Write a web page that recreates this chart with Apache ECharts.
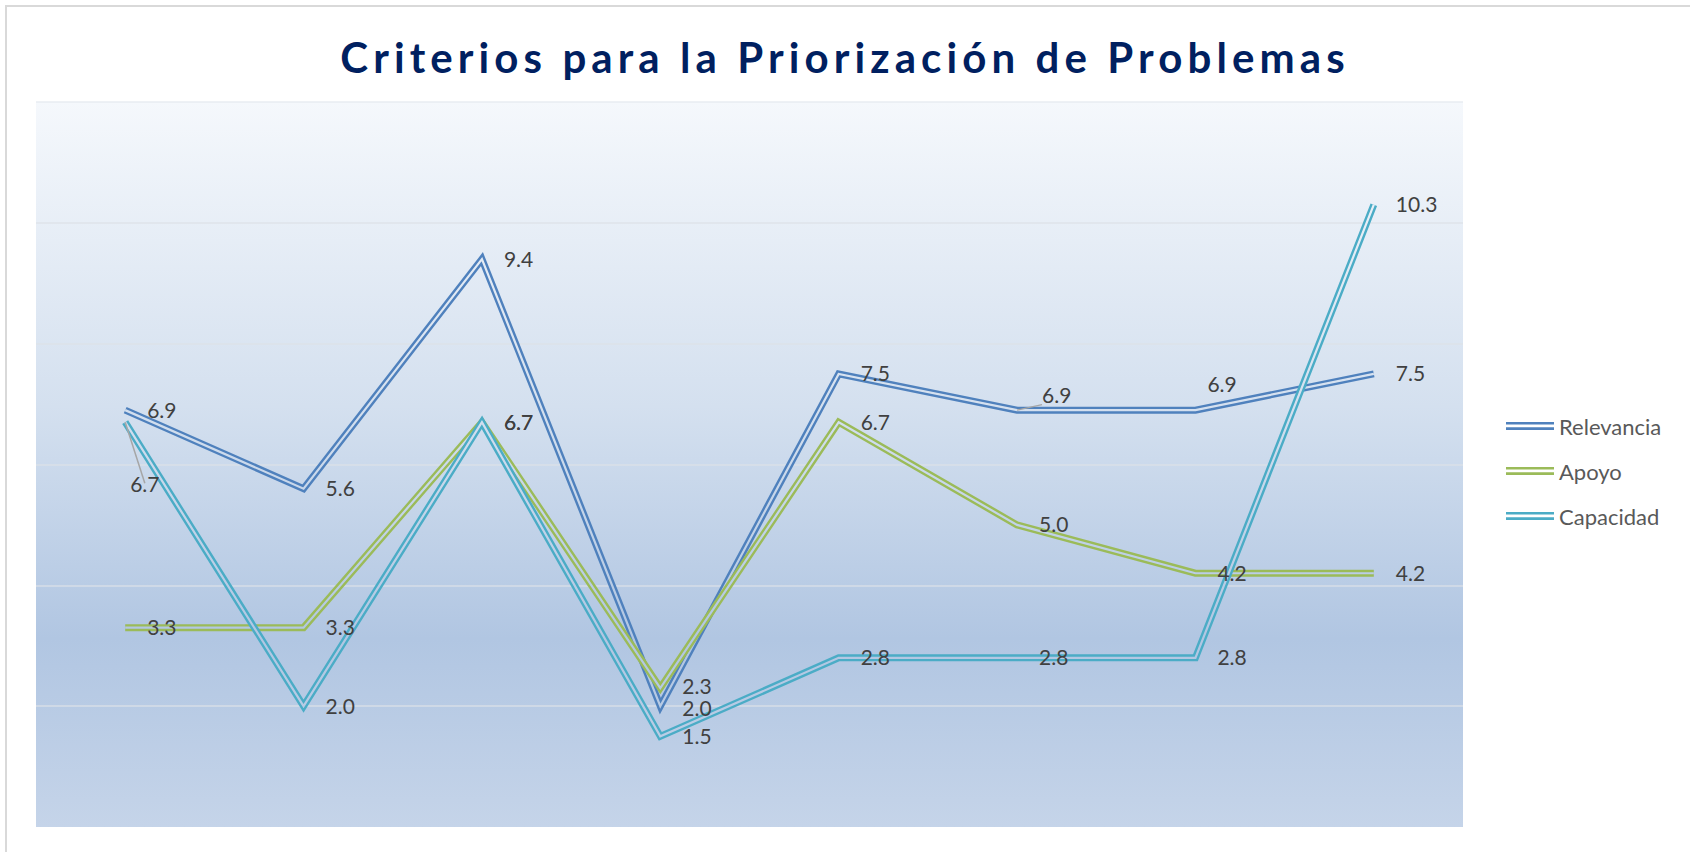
<!DOCTYPE html>
<html>
<head>
<meta charset="utf-8">
<script src="https://cdn.jsdelivr.net/npm/echarts@6/dist/echarts.min.js"></script>
<style>
  html, body { margin: 0; padding: 0; background: #ffffff; }
  #chart { width: 1690px; height: 852px; }
</style>
</head>
<body>
<div id="chart"></div>
<script>
// ---- data ----
const titleText = 'Criterios para la Priorización de Problemas';
const categories = ['P1', 'P2', 'P3', 'P4', 'P5', 'P6', 'P7', 'P8'];
const seriesNames = ['Relevancia', 'Apoyo', 'Capacidad'];
const relevancia = [6.9, 5.6, 9.4, 2.0, 7.5, 6.9, 6.9, 7.5];
const apoyo = [3.3, 3.3, 6.7, 2.3, 6.7, 5.0, 4.2, 4.2];
const capacidad = [6.7, 2.0, 6.7, 1.5, 2.8, 2.8, 2.8, 10.3];
const yMin = 0, yMax = 12, yStep = 2;

// ---- styling ----
const colors = ['#4F81BD', '#9BBB59', '#4BACC6'];
const GRID = { left: 36, top: 102, width: 1427, height: 725 };
const bgStops = [
  { offset: 0, color: '#f5f8fc' },
  { offset: 0.42, color: '#d4e0ef' },
  { offset: 0.74, color: '#b1c6e2' },
  { offset: 1, color: '#c5d4e9' }
];
// manual label displacements (Excel-like positions), per series index -> point index
const labelMoves = {
  0: { 3: { offset: [0, 1] }, 5: { offset: [3, -16], line: true }, 6: { offset: [-10, -27] } },
  1: { 3: { offset: [0, -3] } },
  2: { 0: { offset: [-17, 61], line: true } }
};

const allValues = [relevancia, apoyo, capacidad];

function buildData(values, sIdx) {
  const moves = labelMoves[sIdx] || {};
  return values.map((v, i) => {
    const m = moves[i];
    if (!m) return v;
    const item = { value: v, label: { offset: m.offset } };
    if (m.line) {
      item.labelLine = { show: true, lineStyle: { color: '#a6a6a6', width: 1.5 } };
    }
    return item;
  });
}

const gapGradient = {
  type: 'linear', x: 0, y: GRID.top, x2: 0, y2: GRID.top + GRID.height,
  global: true, colorStops: bgStops
};

const series = [];
allValues.forEach((vals, s) => {
  series.push({
    name: seriesNames[s],
    type: 'line',
    data: buildData(vals, s),
    symbol: 'circle',
    symbolSize: 0,
    showSymbol: true,
    itemStyle: { color: colors[s], borderWidth: 0 },
    lineStyle: { color: colors[s], width: 7, join: 'miter', miterLimit: 10, cap: 'butt' },
    label: {
      show: true,
      position: 'right',
      distance: 22,
      offset: [0, -1],
      fontFamily: 'Lato',
      fontSize: 21,
      color: '#404040',
      formatter: p => Number(p.value).toFixed(1)
    },
    labelLine: { show: false },
    emphasis: { disabled: true },
    z: 2
  });
  series.push({
    name: seriesNames[s] + ' (gap)',
    type: 'line',
    data: vals,
    symbol: 'none',
    silent: true,
    lineStyle: { color: gapGradient, width: 2.2, join: 'miter', miterLimit: 10, cap: 'butt' },
    emphasis: { disabled: true },
    tooltip: { show: false },
    z: 2
  });
});

const chart = echarts.init(document.getElementById('chart'), null, { renderer: 'svg' });
chart.setOption({
  animation: false,
  backgroundColor: '#ffffff',
  title: {
    text: titleText,
    left: 'center',
    top: 31,
    textStyle: {
      fontFamily: 'Lato',
      fontWeight: 'bold',
      fontSize: 42,
      color: '#002060'
    }
  },
  graphic: [{
    type: 'rect',
    shape: { x: 6, y: 6, width: 1720, height: 880 },
    style: { fill: 'none', stroke: '#d9d9d9', lineWidth: 2 },
    silent: true,
    z: -10
  }],
  legend: {
    orient: 'vertical',
    left: 1506,
    top: 415,
    padding: 0,
    itemWidth: 48,
    itemHeight: 8,
    itemGap: 23,
    icon: 'path://M0,0H48V2.6H0Z M0,5.2H48V8H0Z',
    itemStyle: { borderWidth: 0 },
    textStyle: { fontFamily: 'Lato', fontSize: 22, color: '#595959' },
    data: seriesNames.map((n, i) => ({ name: n, itemStyle: { color: colors[i], borderWidth: 0 } })),
    selectedMode: false
  },
  grid: {
    left: GRID.left, top: GRID.top, width: GRID.width, height: GRID.height,
    show: true,
    borderWidth: 0,
    backgroundColor: { type: 'linear', x: 0, y: 0, x2: 0, y2: 1, colorStops: bgStops }
  },
  xAxis: {
    type: 'category',
    data: categories,
    boundaryGap: true,
    axisLine: { show: false },
    axisTick: { show: false },
    axisLabel: { show: false },
    splitLine: { show: false }
  },
  yAxis: {
    type: 'value',
    min: yMin, max: yMax, interval: yStep,
    axisLine: { show: false },
    axisTick: { show: false },
    axisLabel: { show: false },
    splitLine: {
      show: true,
      lineStyle: {
        color: ['rgba(0,0,0,0)', 'rgba(220,224,230,0.85)', 'rgba(220,224,230,0.85)', 'rgba(220,224,230,0.85)', 'rgba(220,224,230,0.85)', 'rgba(220,224,230,0.85)', 'rgba(230,234,240,0.9)'],
        width: 1.5
      }
    }
  },
  series: series
});

// Excel title uses expanded character spacing
function spaceTitle() {
  document.querySelectorAll('#chart text').forEach(t => {
    if (t.textContent === titleText) t.style.letterSpacing = '5.1px';
  });
}
spaceTitle();
chart.on('finished', spaceTitle);
</script>
</body>
</html>
